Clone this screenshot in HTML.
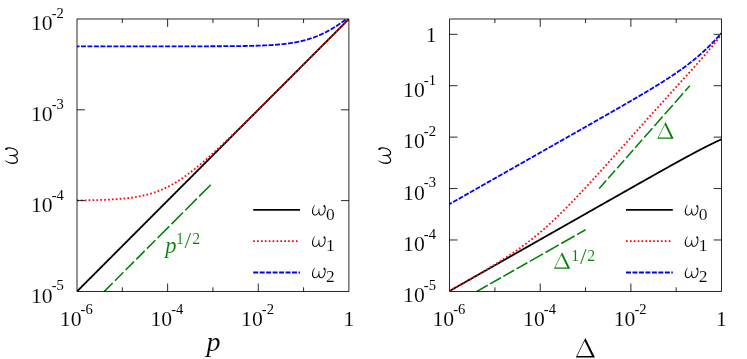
<!DOCTYPE html>
<html><head><meta charset="utf-8"><title>plot</title>
<style>
html,body{margin:0;padding:0;background:#fff;}
svg{display:block;}
text{font-family:"Liberation Serif",serif;fill:#000;stroke:#fff;stroke-width:0.12px;paint-order:fill stroke;}
.t{font-size:21.7px;}
.s{font-size:14.6px;stroke:none;}
.i{font-style:italic;}
.g{fill:#008000;}
</style></head><body>
<svg width="747" height="359" viewBox="0 0 747 359">
<rect x="0" y="0" width="747" height="359" fill="#fff"/>
<g opacity="0.999">
<defs>
<clipPath id="cl"><rect x="77.0" y="19.0" width="271.9" height="272.4"/></clipPath>
<clipPath id="cr"><rect x="449.6" y="19.0" width="271.9" height="272.4"/></clipPath>
</defs>

<g clip-path="url(#cl)" fill="none" stroke-linecap="butt">
<path d="M104.28,291.40L112.69,282.98 M114.95,280.71L123.36,272.29 M125.62,270.03L134.03,261.60 M136.29,259.34L144.69,250.92 M146.95,248.65L155.36,240.23 M157.62,237.96L169.21,226.36 M171.47,224.09L183.05,212.49 M185.31,210.22L196.90,198.61 M199.16,196.35L210.75,184.74" stroke="#008000" stroke-width="1.55" fill="none"/>
<path d="M77.00,291.40 L77.68,290.72 L78.36,290.03 L79.04,289.35 L79.73,288.67 L80.41,287.99 L81.09,287.30 L81.77,286.62 L82.45,285.94 L83.13,285.26 L83.81,284.57 L84.50,283.89 L85.18,283.21 L85.86,282.52 L86.54,281.84 L87.22,281.16 L87.90,280.48 L88.58,279.79 L89.27,279.11 L89.95,278.43 L90.63,277.75 L91.31,277.06 L91.99,276.38 L92.67,275.70 L93.35,275.02 L94.04,274.33 L94.72,273.65 L95.40,272.97 L96.08,272.28 L96.76,271.60 L97.44,270.92 L98.13,270.24 L98.81,269.55 L99.49,268.87 L100.17,268.19 L100.85,267.51 L101.53,266.82 L102.21,266.14 L102.90,265.46 L103.58,264.77 L104.26,264.09 L104.94,263.41 L105.62,262.73 L106.30,262.04 L106.98,261.36 L107.67,260.68 L108.35,260.00 L109.03,259.31 L109.71,258.63 L110.39,257.95 L111.07,257.26 L111.75,256.58 L112.44,255.90 L113.12,255.22 L113.80,254.53 L114.48,253.85 L115.16,253.17 L115.84,252.49 L116.52,251.80 L117.21,251.12 L117.89,250.44 L118.57,249.75 L119.25,249.07 L119.93,248.39 L120.61,247.71 L121.29,247.02 L121.98,246.34 L122.66,245.66 L123.34,244.98 L124.02,244.29 L124.70,243.61 L125.38,242.93 L126.06,242.25 L126.75,241.56 L127.43,240.88 L128.11,240.20 L128.79,239.51 L129.47,238.83 L130.15,238.15 L130.83,237.47 L131.52,236.78 L132.20,236.10 L132.88,235.42 L133.56,234.74 L134.24,234.05 L134.92,233.37 L135.61,232.69 L136.29,232.00 L136.97,231.32 L137.65,230.64 L138.33,229.96 L139.01,229.27 L139.69,228.59 L140.38,227.91 L141.06,227.23 L141.74,226.54 L142.42,225.86 L143.10,225.18 L143.78,224.49 L144.46,223.81 L145.15,223.13 L145.83,222.45 L146.51,221.76 L147.19,221.08 L147.87,220.40 L148.55,219.72 L149.23,219.03 L149.92,218.35 L150.60,217.67 L151.28,216.98 L151.96,216.30 L152.64,215.62 L153.32,214.94 L154.00,214.25 L154.69,213.57 L155.37,212.89 L156.05,212.21 L156.73,211.52 L157.41,210.84 L158.09,210.16 L158.77,209.48 L159.46,208.79 L160.14,208.11 L160.82,207.43 L161.50,206.74 L162.18,206.06 L162.86,205.38 L163.54,204.70 L164.23,204.01 L164.91,203.33 L165.59,202.65 L166.27,201.97 L166.95,201.28 L167.63,200.60 L168.31,199.92 L169.00,199.23 L169.68,198.55 L170.36,197.87 L171.04,197.19 L171.72,196.50 L172.40,195.82 L173.08,195.14 L173.77,194.46 L174.45,193.77 L175.13,193.09 L175.81,192.41 L176.49,191.72 L177.17,191.04 L177.86,190.36 L178.54,189.68 L179.22,188.99 L179.90,188.31 L180.58,187.63 L181.26,186.95 L181.94,186.26 L182.63,185.58 L183.31,184.90 L183.99,184.22 L184.67,183.53 L185.35,182.85 L186.03,182.17 L186.71,181.48 L187.40,180.80 L188.08,180.12 L188.76,179.44 L189.44,178.75 L190.12,178.07 L190.80,177.39 L191.48,176.71 L192.17,176.02 L192.85,175.34 L193.53,174.66 L194.21,173.97 L194.89,173.29 L195.57,172.61 L196.25,171.93 L196.94,171.24 L197.62,170.56 L198.30,169.88 L198.98,169.20 L199.66,168.51 L200.34,167.83 L201.02,167.15 L201.71,166.46 L202.39,165.78 L203.07,165.10 L203.75,164.42 L204.43,163.73 L205.11,163.05 L205.79,162.37 L206.48,161.69 L207.16,161.00 L207.84,160.32 L208.52,159.64 L209.20,158.95 L209.88,158.27 L210.56,157.59 L211.25,156.91 L211.93,156.22 L212.61,155.54 L213.29,154.86 L213.97,154.18 L214.65,153.49 L215.34,152.81 L216.02,152.13 L216.70,151.45 L217.38,150.76 L218.06,150.08 L218.74,149.40 L219.42,148.71 L220.11,148.03 L220.79,147.35 L221.47,146.67 L222.15,145.98 L222.83,145.30 L223.51,144.62 L224.19,143.94 L224.88,143.25 L225.56,142.57 L226.24,141.89 L226.92,141.20 L227.60,140.52 L228.28,139.84 L228.96,139.16 L229.65,138.47 L230.33,137.79 L231.01,137.11 L231.69,136.43 L232.37,135.74 L233.05,135.06 L233.73,134.38 L234.42,133.69 L235.10,133.01 L235.78,132.33 L236.46,131.65 L237.14,130.96 L237.82,130.28 L238.50,129.60 L239.19,128.92 L239.87,128.23 L240.55,127.55 L241.23,126.87 L241.91,126.18 L242.59,125.50 L243.27,124.82 L243.96,124.14 L244.64,123.45 L245.32,122.77 L246.00,122.09 L246.68,121.41 L247.36,120.72 L248.04,120.04 L248.73,119.36 L249.41,118.68 L250.09,117.99 L250.77,117.31 L251.45,116.63 L252.13,115.94 L252.82,115.26 L253.50,114.58 L254.18,113.90 L254.86,113.21 L255.54,112.53 L256.22,111.85 L256.90,111.17 L257.59,110.48 L258.27,109.80 L258.95,109.12 L259.63,108.43 L260.31,107.75 L260.99,107.07 L261.67,106.39 L262.36,105.70 L263.04,105.02 L263.72,104.34 L264.40,103.66 L265.08,102.97 L265.76,102.29 L266.44,101.61 L267.13,100.92 L267.81,100.24 L268.49,99.56 L269.17,98.88 L269.85,98.19 L270.53,97.51 L271.21,96.83 L271.90,96.15 L272.58,95.46 L273.26,94.78 L273.94,94.10 L274.62,93.42 L275.30,92.73 L275.98,92.05 L276.67,91.37 L277.35,90.68 L278.03,90.00 L278.71,89.32 L279.39,88.64 L280.07,87.95 L280.75,87.27 L281.44,86.59 L282.12,85.91 L282.80,85.22 L283.48,84.54 L284.16,83.86 L284.84,83.17 L285.52,82.49 L286.21,81.81 L286.89,81.13 L287.57,80.44 L288.25,79.76 L288.93,79.08 L289.61,78.40 L290.29,77.71 L290.98,77.03 L291.66,76.35 L292.34,75.66 L293.02,74.98 L293.70,74.30 L294.38,73.62 L295.07,72.93 L295.75,72.25 L296.43,71.57 L297.11,70.89 L297.79,70.20 L298.47,69.52 L299.15,68.84 L299.84,68.15 L300.52,67.47 L301.20,66.79 L301.88,66.11 L302.56,65.42 L303.24,64.74 L303.92,64.06 L304.61,63.38 L305.29,62.69 L305.97,62.01 L306.65,61.33 L307.33,60.65 L308.01,59.96 L308.69,59.28 L309.38,58.60 L310.06,57.91 L310.74,57.23 L311.42,56.55 L312.10,55.87 L312.78,55.18 L313.46,54.50 L314.15,53.82 L314.83,53.14 L315.51,52.45 L316.19,51.77 L316.87,51.09 L317.55,50.40 L318.23,49.72 L318.92,49.04 L319.60,48.36 L320.28,47.67 L320.96,46.99 L321.64,46.31 L322.32,45.63 L323.00,44.94 L323.69,44.26 L324.37,43.58 L325.05,42.89 L325.73,42.21 L326.41,41.53 L327.09,40.85 L327.77,40.16 L328.46,39.48 L329.14,38.80 L329.82,38.12 L330.50,37.43 L331.18,36.75 L331.86,36.07 L332.55,35.38 L333.23,34.70 L333.91,34.02 L334.59,33.34 L335.27,32.65 L335.95,31.97 L336.63,31.29 L337.32,30.61 L338.00,29.92 L338.68,29.24 L339.36,28.56 L340.04,27.88 L340.72,27.19 L341.40,26.51 L342.09,25.83 L342.77,25.14 L343.45,24.46 L344.13,23.78 L344.81,23.10 L345.49,22.41 L346.17,21.73 L346.86,21.05 L347.54,20.37 L348.22,19.68 L348.90,19.00" stroke="#000" stroke-width="1.8"/>
<path d="M77.00,200.40 L77.68,200.40 L78.36,200.39 L79.04,200.38 L79.73,200.37 L80.41,200.37 L81.09,200.36 L81.77,200.35 L82.45,200.34 L83.13,200.33 L83.81,200.32 L84.50,200.31 L85.18,200.30 L85.86,200.29 L86.54,200.28 L87.22,200.27 L87.90,200.26 L88.58,200.25 L89.27,200.24 L89.95,200.22 L90.63,200.21 L91.31,200.20 L91.99,200.18 L92.67,200.17 L93.35,200.15 L94.04,200.14 L94.72,200.12 L95.40,200.10 L96.08,200.09 L96.76,200.07 L97.44,200.05 L98.13,200.03 L98.81,200.01 L99.49,199.99 L100.17,199.97 L100.85,199.95 L101.53,199.93 L102.21,199.90 L102.90,199.88 L103.58,199.85 L104.26,199.83 L104.94,199.80 L105.62,199.77 L106.30,199.74 L106.98,199.72 L107.67,199.69 L108.35,199.65 L109.03,199.62 L109.71,199.59 L110.39,199.55 L111.07,199.52 L111.75,199.48 L112.44,199.44 L113.12,199.40 L113.80,199.36 L114.48,199.32 L115.16,199.27 L115.84,199.23 L116.52,199.18 L117.21,199.14 L117.89,199.09 L118.57,199.03 L119.25,198.98 L119.93,198.93 L120.61,198.87 L121.29,198.81 L121.98,198.75 L122.66,198.69 L123.34,198.63 L124.02,198.56 L124.70,198.49 L125.38,198.42 L126.06,198.35 L126.75,198.27 L127.43,198.20 L128.11,198.12 L128.79,198.03 L129.47,197.95 L130.15,197.86 L130.83,197.77 L131.52,197.68 L132.20,197.59 L132.88,197.49 L133.56,197.39 L134.24,197.28 L134.92,197.17 L135.61,197.06 L136.29,196.95 L136.97,196.83 L137.65,196.71 L138.33,196.59 L139.01,196.46 L139.69,196.33 L140.38,196.20 L141.06,196.06 L141.74,195.91 L142.42,195.77 L143.10,195.62 L143.78,195.46 L144.46,195.30 L145.15,195.14 L145.83,194.97 L146.51,194.80 L147.19,194.63 L147.87,194.45 L148.55,194.26 L149.23,194.07 L149.92,193.87 L150.60,193.68 L151.28,193.47 L151.96,193.26 L152.64,193.05 L153.32,192.83 L154.00,192.60 L154.69,192.37 L155.37,192.14 L156.05,191.89 L156.73,191.65 L157.41,191.40 L158.09,191.14 L158.77,190.88 L159.46,190.61 L160.14,190.33 L160.82,190.05 L161.50,189.77 L162.18,189.48 L162.86,189.18 L163.54,188.88 L164.23,188.57 L164.91,188.25 L165.59,187.93 L166.27,187.60 L166.95,187.27 L167.63,186.93 L168.31,186.59 L169.00,186.24 L169.68,185.88 L170.36,185.52 L171.04,185.15 L171.72,184.78 L172.40,184.40 L173.08,184.01 L173.77,183.62 L174.45,183.23 L175.13,182.82 L175.81,182.41 L176.49,182.00 L177.17,181.58 L177.86,181.16 L178.54,180.72 L179.22,180.29 L179.90,179.85 L180.58,179.40 L181.26,178.95 L181.94,178.49 L182.63,178.03 L183.31,177.56 L183.99,177.09 L184.67,176.61 L185.35,176.12 L186.03,175.64 L186.71,175.14 L187.40,174.65 L188.08,174.14 L188.76,173.64 L189.44,173.13 L190.12,172.61 L190.80,172.09 L191.48,171.57 L192.17,171.04 L192.85,170.51 L193.53,169.97 L194.21,169.43 L194.89,168.89 L195.57,168.34 L196.25,167.79 L196.94,167.23 L197.62,166.67 L198.30,166.11 L198.98,165.55 L199.66,164.98 L200.34,164.40 L201.02,163.83 L201.71,163.25 L202.39,162.67 L203.07,162.08 L203.75,161.50 L204.43,160.91 L205.11,160.31 L205.79,159.72 L206.48,159.12 L207.16,158.52 L207.84,157.92 L208.52,157.31 L209.20,156.70 L209.88,156.09 L210.56,155.48 L211.25,154.87 L211.93,154.25 L212.61,153.63 L213.29,153.01 L213.97,152.39 L214.65,151.76 L215.34,151.14 L216.02,150.51 L216.70,149.88 L217.38,149.25 L218.06,148.61 L218.74,147.98 L219.42,147.34 L220.11,146.71 L220.79,146.07 L221.47,145.43 L222.15,144.79 L222.83,144.14 L223.51,143.50 L224.19,142.85 L224.88,142.21 L225.56,141.56 L226.24,140.91 L226.92,140.26 L227.60,139.61 L228.28,138.95 L228.96,138.30 L229.65,137.65 L230.33,136.99 L231.01,136.34 L231.69,135.68 L232.37,135.02 L233.05,134.36 L233.73,133.70 L234.42,133.04 L235.10,132.38 L235.78,131.72 L236.46,131.06 L237.14,130.40 L237.82,129.73 L238.50,129.07 L239.19,128.40 L239.87,127.74 L240.55,127.07 L241.23,126.40 L241.91,125.74 L242.59,125.07 L243.27,124.40 L243.96,123.73 L244.64,123.06 L245.32,122.39 L246.00,121.72 L246.68,121.05 L247.36,120.38 L248.04,119.71 L248.73,119.04 L249.41,118.37 L250.09,117.70 L250.77,117.02 L251.45,116.35 L252.13,115.68 L252.82,115.00 L253.50,114.33 L254.18,113.66 L254.86,112.98 L255.54,112.31 L256.22,111.63 L256.90,110.96 L257.59,110.28 L258.27,109.60 L258.95,108.93 L259.63,108.25 L260.31,107.57 L260.99,106.90 L261.67,106.22 L262.36,105.54 L263.04,104.87 L263.72,104.19 L264.40,103.51 L265.08,102.83 L265.76,102.16 L266.44,101.48 L267.13,100.80 L267.81,100.12 L268.49,99.44 L269.17,98.76 L269.85,98.08 L270.53,97.41 L271.21,96.73 L271.90,96.05 L272.58,95.37 L273.26,94.69 L273.94,94.01 L274.62,93.33 L275.30,92.65 L275.98,91.97 L276.67,91.29 L277.35,90.61 L278.03,89.93 L278.71,89.25 L279.39,88.57 L280.07,87.89 L280.75,87.21 L281.44,86.53 L282.12,85.85 L282.80,85.17 L283.48,84.49 L284.16,83.80 L284.84,83.12 L285.52,82.44 L286.21,81.76 L286.89,81.08 L287.57,80.40 L288.25,79.72 L288.93,79.04 L289.61,78.36 L290.29,77.67 L290.98,76.99 L291.66,76.31 L292.34,75.63 L293.02,74.95 L293.70,74.27 L294.38,73.59 L295.07,72.90 L295.75,72.22 L296.43,71.54 L297.11,70.86 L297.79,70.18 L298.47,69.49 L299.15,68.81 L299.84,68.13 L300.52,67.45 L301.20,66.77 L301.88,66.09 L302.56,65.40 L303.24,64.72 L303.92,64.04 L304.61,63.36 L305.29,62.68 L305.97,61.99 L306.65,61.31 L307.33,60.63 L308.01,59.95 L308.69,59.26 L309.38,58.58 L310.06,57.90 L310.74,57.22 L311.42,56.54 L312.10,55.85 L312.78,55.17 L313.46,54.49 L314.15,53.81 L314.83,53.12 L315.51,52.44 L316.19,51.76 L316.87,51.08 L317.55,50.39 L318.23,49.71 L318.92,49.03 L319.60,48.35 L320.28,47.67 L320.96,46.98 L321.64,46.30 L322.32,45.62 L323.00,44.94 L323.69,44.25 L324.37,43.57 L325.05,42.89 L325.73,42.21 L326.41,41.52 L327.09,40.84 L327.77,40.16 L328.46,39.48 L329.14,38.79 L329.82,38.11 L330.50,37.43 L331.18,36.75 L331.86,36.06 L332.55,35.38 L333.23,34.70 L333.91,34.02 L334.59,33.33 L335.27,32.65 L335.95,31.97 L336.63,31.29 L337.32,30.60 L338.00,29.92 L338.68,29.24 L339.36,28.55 L340.04,27.87 L340.72,27.19 L341.40,26.51 L342.09,25.82 L342.77,25.14 L343.45,24.46 L344.13,23.78 L344.81,23.09 L345.49,22.41 L346.17,21.73 L346.86,21.05 L347.54,20.36 L348.22,19.68 L348.90,19.00" stroke="#ff0000" stroke-width="1.8" stroke-dasharray="1.7 2.18"/>
<path d="M77.00,46.33 L77.68,46.33 L78.36,46.33 L79.04,46.33 L79.73,46.33 L80.41,46.33 L81.09,46.33 L81.77,46.33 L82.45,46.33 L83.13,46.33 L83.81,46.33 L84.50,46.33 L85.18,46.33 L85.86,46.33 L86.54,46.33 L87.22,46.33 L87.90,46.33 L88.58,46.33 L89.27,46.33 L89.95,46.33 L90.63,46.33 L91.31,46.33 L91.99,46.33 L92.67,46.33 L93.35,46.33 L94.04,46.33 L94.72,46.33 L95.40,46.33 L96.08,46.33 L96.76,46.33 L97.44,46.33 L98.13,46.33 L98.81,46.33 L99.49,46.33 L100.17,46.33 L100.85,46.33 L101.53,46.33 L102.21,46.33 L102.90,46.33 L103.58,46.33 L104.26,46.33 L104.94,46.33 L105.62,46.33 L106.30,46.33 L106.98,46.33 L107.67,46.33 L108.35,46.33 L109.03,46.33 L109.71,46.33 L110.39,46.33 L111.07,46.33 L111.75,46.33 L112.44,46.33 L113.12,46.33 L113.80,46.33 L114.48,46.33 L115.16,46.33 L115.84,46.33 L116.52,46.33 L117.21,46.33 L117.89,46.33 L118.57,46.33 L119.25,46.33 L119.93,46.33 L120.61,46.33 L121.29,46.33 L121.98,46.33 L122.66,46.33 L123.34,46.33 L124.02,46.33 L124.70,46.33 L125.38,46.33 L126.06,46.33 L126.75,46.33 L127.43,46.33 L128.11,46.33 L128.79,46.33 L129.47,46.33 L130.15,46.33 L130.83,46.33 L131.52,46.33 L132.20,46.33 L132.88,46.33 L133.56,46.33 L134.24,46.33 L134.92,46.33 L135.61,46.33 L136.29,46.33 L136.97,46.33 L137.65,46.33 L138.33,46.33 L139.01,46.33 L139.69,46.33 L140.38,46.33 L141.06,46.33 L141.74,46.33 L142.42,46.33 L143.10,46.33 L143.78,46.33 L144.46,46.33 L145.15,46.33 L145.83,46.33 L146.51,46.33 L147.19,46.33 L147.87,46.33 L148.55,46.33 L149.23,46.33 L149.92,46.33 L150.60,46.33 L151.28,46.33 L151.96,46.33 L152.64,46.33 L153.32,46.33 L154.00,46.33 L154.69,46.33 L155.37,46.33 L156.05,46.33 L156.73,46.33 L157.41,46.33 L158.09,46.33 L158.77,46.33 L159.46,46.33 L160.14,46.33 L160.82,46.33 L161.50,46.33 L162.18,46.33 L162.86,46.33 L163.54,46.33 L164.23,46.33 L164.91,46.33 L165.59,46.33 L166.27,46.33 L166.95,46.33 L167.63,46.33 L168.31,46.33 L169.00,46.33 L169.68,46.33 L170.36,46.33 L171.04,46.33 L171.72,46.33 L172.40,46.32 L173.08,46.32 L173.77,46.32 L174.45,46.32 L175.13,46.32 L175.81,46.32 L176.49,46.32 L177.17,46.32 L177.86,46.32 L178.54,46.32 L179.22,46.32 L179.90,46.32 L180.58,46.32 L181.26,46.32 L181.94,46.32 L182.63,46.32 L183.31,46.32 L183.99,46.32 L184.67,46.32 L185.35,46.32 L186.03,46.32 L186.71,46.32 L187.40,46.32 L188.08,46.31 L188.76,46.31 L189.44,46.31 L190.12,46.31 L190.80,46.31 L191.48,46.31 L192.17,46.31 L192.85,46.31 L193.53,46.31 L194.21,46.31 L194.89,46.31 L195.57,46.31 L196.25,46.30 L196.94,46.30 L197.62,46.30 L198.30,46.30 L198.98,46.30 L199.66,46.30 L200.34,46.30 L201.02,46.30 L201.71,46.30 L202.39,46.29 L203.07,46.29 L203.75,46.29 L204.43,46.29 L205.11,46.29 L205.79,46.29 L206.48,46.29 L207.16,46.28 L207.84,46.28 L208.52,46.28 L209.20,46.28 L209.88,46.28 L210.56,46.27 L211.25,46.27 L211.93,46.27 L212.61,46.27 L213.29,46.27 L213.97,46.26 L214.65,46.26 L215.34,46.26 L216.02,46.26 L216.70,46.25 L217.38,46.25 L218.06,46.25 L218.74,46.24 L219.42,46.24 L220.11,46.24 L220.79,46.23 L221.47,46.23 L222.15,46.23 L222.83,46.22 L223.51,46.22 L224.19,46.22 L224.88,46.21 L225.56,46.21 L226.24,46.20 L226.92,46.20 L227.60,46.19 L228.28,46.19 L228.96,46.18 L229.65,46.18 L230.33,46.17 L231.01,46.17 L231.69,46.16 L232.37,46.15 L233.05,46.15 L233.73,46.14 L234.42,46.13 L235.10,46.13 L235.78,46.12 L236.46,46.11 L237.14,46.11 L237.82,46.10 L238.50,46.09 L239.19,46.08 L239.87,46.07 L240.55,46.06 L241.23,46.05 L241.91,46.04 L242.59,46.03 L243.27,46.02 L243.96,46.01 L244.64,46.00 L245.32,45.99 L246.00,45.98 L246.68,45.96 L247.36,45.95 L248.04,45.94 L248.73,45.92 L249.41,45.91 L250.09,45.90 L250.77,45.88 L251.45,45.86 L252.13,45.85 L252.82,45.83 L253.50,45.81 L254.18,45.80 L254.86,45.78 L255.54,45.76 L256.22,45.74 L256.90,45.72 L257.59,45.70 L258.27,45.67 L258.95,45.65 L259.63,45.63 L260.31,45.60 L260.99,45.58 L261.67,45.55 L262.36,45.53 L263.04,45.50 L263.72,45.47 L264.40,45.44 L265.08,45.41 L265.76,45.38 L266.44,45.34 L267.13,45.31 L267.81,45.27 L268.49,45.24 L269.17,45.20 L269.85,45.16 L270.53,45.12 L271.21,45.08 L271.90,45.04 L272.58,44.99 L273.26,44.95 L273.94,44.90 L274.62,44.85 L275.30,44.80 L275.98,44.75 L276.67,44.70 L277.35,44.64 L278.03,44.58 L278.71,44.52 L279.39,44.46 L280.07,44.40 L280.75,44.34 L281.44,44.27 L282.12,44.20 L282.80,44.13 L283.48,44.06 L284.16,43.98 L284.84,43.90 L285.52,43.82 L286.21,43.74 L286.89,43.65 L287.57,43.57 L288.25,43.48 L288.93,43.38 L289.61,43.29 L290.29,43.19 L290.98,43.08 L291.66,42.98 L292.34,42.87 L293.02,42.76 L293.70,42.64 L294.38,42.53 L295.07,42.40 L295.75,42.28 L296.43,42.15 L297.11,42.02 L297.79,41.88 L298.47,41.74 L299.15,41.60 L299.84,41.45 L300.52,41.30 L301.20,41.14 L301.88,40.98 L302.56,40.82 L303.24,40.65 L303.92,40.48 L304.61,40.30 L305.29,40.12 L305.97,39.93 L306.65,39.74 L307.33,39.54 L308.01,39.34 L308.69,39.13 L309.38,38.92 L310.06,38.70 L310.74,38.48 L311.42,38.26 L312.10,38.02 L312.78,37.79 L313.46,37.54 L314.15,37.30 L314.83,37.04 L315.51,36.78 L316.19,36.52 L316.87,36.25 L317.55,35.97 L318.23,35.69 L318.92,35.40 L319.60,35.11 L320.28,34.81 L320.96,34.50 L321.64,34.19 L322.32,33.88 L323.00,33.55 L323.69,33.22 L324.37,32.89 L325.05,32.55 L325.73,32.20 L326.41,31.85 L327.09,31.49 L327.77,31.13 L328.46,30.76 L329.14,30.38 L329.82,30.00 L330.50,29.61 L331.18,29.22 L331.86,28.82 L332.55,28.42 L333.23,28.01 L333.91,27.59 L334.59,27.17 L335.27,26.74 L335.95,26.31 L336.63,25.87 L337.32,25.43 L338.00,24.98 L338.68,24.52 L339.36,24.06 L340.04,23.60 L340.72,23.13 L341.40,22.66 L342.09,22.18 L342.77,21.69 L343.45,21.20 L344.13,20.71 L344.81,20.21 L345.49,19.70 L346.17,19.20 L346.86,18.68 L347.54,18.17 L348.22,17.65 L348.90,17.12" stroke="#0000ff" stroke-width="1.8" stroke-dasharray="5 1.47" stroke-dashoffset="2.5"/>
</g>
<path d="M122.32,291.4v-4.1 M122.32,19.0v4.1 M167.63,291.4v-7.9 M167.63,19.0v7.9 M212.95,291.4v-4.1 M212.95,19.0v4.1 M258.27,291.4v-7.9 M258.27,19.0v7.9 M303.58,291.4v-4.1 M303.58,19.0v4.1 M77.0,200.60h7.9 M348.9,200.60h-7.9 M77.0,109.80h7.9 M348.9,109.80h-7.9" stroke="#000" stroke-width="0.85" fill="none"/>
<rect x="77.0" y="19.0" width="271.90" height="272.40" fill="none" stroke="#000" stroke-width="0.85"/>
<text class="t" x="30.95" y="302.50">10</text><text class="s" x="51.70" y="290.40">-5</text>
<text class="t" x="30.95" y="211.70">10</text><text class="s" x="51.70" y="199.60">-4</text>
<text class="t" x="30.95" y="120.90">10</text><text class="s" x="51.70" y="108.80">-3</text>
<text class="t" x="30.95" y="30.10">10</text><text class="s" x="51.70" y="18.00">-2</text>
<text class="t" x="59.85" y="326.00">10</text><text class="s" x="80.60" y="313.90">-6</text>
<text class="t" x="150.48" y="326.00">10</text><text class="s" x="171.23" y="313.90">-4</text>
<text class="t" x="241.12" y="326.00">10</text><text class="s" x="261.87" y="313.90">-2</text>
<text class="t" x="348.90" y="326" text-anchor="middle">1</text>
<text class="i" font-size="28" x="206.5" y="350.6">p</text>
<g transform="translate(17.5,163.55) rotate(-90) scale(1.18)" fill="#000"><title>ω</title><path d="M2.37,-10.48 L1.95,-9.98 L1.56,-9.45 L1.19,-8.88 L0.86,-8.30 L0.56,-7.69 L0.29,-7.06 L0.07,-6.41 L-0.12,-5.75 L-0.25,-5.07 L-0.34,-4.37 L-0.37,-3.68 L-0.31,-3.03 L-0.20,-2.42 L-0.05,-1.87 L0.15,-1.37 L0.40,-0.92 L0.70,-0.52 L1.04,-0.19 L1.43,0.08 L1.86,0.26 L2.32,0.37 L2.81,0.40 L3.40,0.33 L3.98,0.16 L4.52,-0.10 L5.03,-0.44 L5.50,-0.87 L5.92,-1.36 L6.29,-1.91 L6.60,-2.53 L6.85,-3.19 L7.04,-3.91 L7.15,-4.65 L7.17,-4.88 L7.19,-5.10 L7.21,-5.32 L7.23,-5.54 L7.24,-5.76 L7.25,-5.97 L7.26,-6.19 L7.27,-6.39 L7.27,-6.60 L7.28,-6.80 L7.27,-7.00 L6.63,-7.00 L6.62,-6.81 L6.62,-6.62 L6.61,-6.42 L6.60,-6.22 L6.58,-6.01 L6.57,-5.81 L6.55,-5.60 L6.53,-5.38 L6.51,-5.17 L6.48,-4.96 L6.45,-4.75 L6.33,-4.06 L6.14,-3.43 L5.89,-2.86 L5.60,-2.34 L5.26,-1.88 L4.89,-1.48 L4.50,-1.16 L4.08,-0.90 L3.66,-0.73 L3.23,-0.63 L2.79,-0.60 L2.49,-0.64 L2.21,-0.72 L1.97,-0.85 L1.75,-1.02 L1.55,-1.24 L1.37,-1.51 L1.21,-1.84 L1.08,-2.22 L0.98,-2.67 L0.91,-3.17 L0.87,-3.72 L0.84,-4.33 L0.85,-4.95 L0.90,-5.56 L1.00,-6.17 L1.13,-6.78 L1.31,-7.39 L1.53,-7.98 L1.78,-8.57 L2.07,-9.13 L2.38,-9.68 L2.73,-10.22Z M6.63,-7.03 L6.56,-6.45 L6.50,-5.87 L6.46,-5.29 L6.44,-4.71 L6.43,-4.15 L6.44,-3.60 L6.46,-3.07 L6.51,-2.57 L6.57,-2.09 L6.65,-1.63 L6.76,-1.20 L6.91,-0.88 L7.08,-0.61 L7.27,-0.38 L7.48,-0.17 L7.71,-0.00 L7.94,0.14 L8.19,0.24 L8.44,0.31 L8.70,0.35 L8.95,0.37 L9.26,0.37 L9.90,0.26 L10.54,-0.02 L11.13,-0.42 L11.67,-0.94 L12.16,-1.55 L12.59,-2.24 L12.96,-3.00 L13.26,-3.82 L13.49,-4.68 L13.65,-5.57 L13.72,-6.47 L13.74,-6.90 L13.73,-7.30 L13.71,-7.68 L13.68,-8.03 L13.64,-8.37 L13.58,-8.68 L13.51,-8.97 L13.44,-9.23 L13.36,-9.47 L13.27,-9.69 L13.18,-9.86 L12.22,-9.34 L12.29,-9.21 L12.36,-9.07 L12.44,-8.89 L12.51,-8.69 L12.57,-8.45 L12.63,-8.19 L12.68,-7.90 L12.73,-7.59 L12.76,-7.25 L12.77,-6.90 L12.78,-6.53 L12.71,-5.69 L12.57,-4.89 L12.36,-4.11 L12.08,-3.38 L11.75,-2.70 L11.38,-2.10 L10.97,-1.58 L10.53,-1.16 L10.08,-0.85 L9.63,-0.65 L9.14,-0.57 L9.02,-0.59 L8.85,-0.62 L8.70,-0.66 L8.56,-0.71 L8.44,-0.78 L8.32,-0.86 L8.21,-0.96 L8.11,-1.08 L8.01,-1.23 L7.92,-1.40 L7.84,-1.60 L7.72,-1.92 L7.61,-2.30 L7.51,-2.72 L7.43,-3.18 L7.36,-3.67 L7.31,-4.19 L7.27,-4.72 L7.25,-5.27 L7.24,-5.83 L7.25,-6.40 L7.27,-6.97Z"/><ellipse cx="12.42" cy="-9.35" rx="0.85" ry="1.2" transform="rotate(-20 12.42 -9.35)"/></g>
<text class="i g" font-size="22.5" x="165.2" y="252.6">p</text>
<text class="g" font-size="15.8" x="175.88" y="243.5">1</text><text class="g" font-size="24" x="184.60" y="247.7">/</text><text class="g" font-size="15.8" x="192.19" y="243.5">2</text>
<path d="M253.2,209.90H300" stroke="#000" stroke-width="1.8" fill="none"/>
<g transform="translate(312.3,215.2) rotate(0) scale(0.97)" fill="#000"><title>ω</title><path d="M2.37,-10.48 L1.95,-9.98 L1.56,-9.45 L1.19,-8.88 L0.86,-8.30 L0.56,-7.69 L0.29,-7.06 L0.07,-6.41 L-0.12,-5.75 L-0.25,-5.07 L-0.34,-4.37 L-0.37,-3.68 L-0.31,-3.03 L-0.20,-2.42 L-0.05,-1.87 L0.15,-1.37 L0.40,-0.92 L0.70,-0.52 L1.04,-0.19 L1.43,0.08 L1.86,0.26 L2.32,0.37 L2.81,0.40 L3.40,0.33 L3.98,0.16 L4.52,-0.10 L5.03,-0.44 L5.50,-0.87 L5.92,-1.36 L6.29,-1.91 L6.60,-2.53 L6.85,-3.19 L7.04,-3.91 L7.15,-4.65 L7.17,-4.88 L7.19,-5.10 L7.21,-5.32 L7.23,-5.54 L7.24,-5.76 L7.25,-5.97 L7.26,-6.19 L7.27,-6.39 L7.27,-6.60 L7.28,-6.80 L7.27,-7.00 L6.63,-7.00 L6.62,-6.81 L6.62,-6.62 L6.61,-6.42 L6.60,-6.22 L6.58,-6.01 L6.57,-5.81 L6.55,-5.60 L6.53,-5.38 L6.51,-5.17 L6.48,-4.96 L6.45,-4.75 L6.33,-4.06 L6.14,-3.43 L5.89,-2.86 L5.60,-2.34 L5.26,-1.88 L4.89,-1.48 L4.50,-1.16 L4.08,-0.90 L3.66,-0.73 L3.23,-0.63 L2.79,-0.60 L2.49,-0.64 L2.21,-0.72 L1.97,-0.85 L1.75,-1.02 L1.55,-1.24 L1.37,-1.51 L1.21,-1.84 L1.08,-2.22 L0.98,-2.67 L0.91,-3.17 L0.87,-3.72 L0.84,-4.33 L0.85,-4.95 L0.90,-5.56 L1.00,-6.17 L1.13,-6.78 L1.31,-7.39 L1.53,-7.98 L1.78,-8.57 L2.07,-9.13 L2.38,-9.68 L2.73,-10.22Z M6.63,-7.03 L6.56,-6.45 L6.50,-5.87 L6.46,-5.29 L6.44,-4.71 L6.43,-4.15 L6.44,-3.60 L6.46,-3.07 L6.51,-2.57 L6.57,-2.09 L6.65,-1.63 L6.76,-1.20 L6.91,-0.88 L7.08,-0.61 L7.27,-0.38 L7.48,-0.17 L7.71,-0.00 L7.94,0.14 L8.19,0.24 L8.44,0.31 L8.70,0.35 L8.95,0.37 L9.26,0.37 L9.90,0.26 L10.54,-0.02 L11.13,-0.42 L11.67,-0.94 L12.16,-1.55 L12.59,-2.24 L12.96,-3.00 L13.26,-3.82 L13.49,-4.68 L13.65,-5.57 L13.72,-6.47 L13.74,-6.90 L13.73,-7.30 L13.71,-7.68 L13.68,-8.03 L13.64,-8.37 L13.58,-8.68 L13.51,-8.97 L13.44,-9.23 L13.36,-9.47 L13.27,-9.69 L13.18,-9.86 L12.22,-9.34 L12.29,-9.21 L12.36,-9.07 L12.44,-8.89 L12.51,-8.69 L12.57,-8.45 L12.63,-8.19 L12.68,-7.90 L12.73,-7.59 L12.76,-7.25 L12.77,-6.90 L12.78,-6.53 L12.71,-5.69 L12.57,-4.89 L12.36,-4.11 L12.08,-3.38 L11.75,-2.70 L11.38,-2.10 L10.97,-1.58 L10.53,-1.16 L10.08,-0.85 L9.63,-0.65 L9.14,-0.57 L9.02,-0.59 L8.85,-0.62 L8.70,-0.66 L8.56,-0.71 L8.44,-0.78 L8.32,-0.86 L8.21,-0.96 L8.11,-1.08 L8.01,-1.23 L7.92,-1.40 L7.84,-1.60 L7.72,-1.92 L7.61,-2.30 L7.51,-2.72 L7.43,-3.18 L7.36,-3.67 L7.31,-4.19 L7.27,-4.72 L7.25,-5.27 L7.24,-5.83 L7.25,-6.40 L7.27,-6.97Z"/><ellipse cx="12.42" cy="-9.35" rx="0.85" ry="1.2" transform="rotate(-20 12.42 -9.35)"/></g>
<text font-size="17.5" x="326" y="219.50">0</text>
<path d="M253.2,241.20H297.7" stroke="#ff0000" stroke-width="1.8" fill="none" stroke-dasharray="1.7 2.18"/>
<g transform="translate(312.3,246.5) rotate(0) scale(0.97)" fill="#000"><title>ω</title><path d="M2.37,-10.48 L1.95,-9.98 L1.56,-9.45 L1.19,-8.88 L0.86,-8.30 L0.56,-7.69 L0.29,-7.06 L0.07,-6.41 L-0.12,-5.75 L-0.25,-5.07 L-0.34,-4.37 L-0.37,-3.68 L-0.31,-3.03 L-0.20,-2.42 L-0.05,-1.87 L0.15,-1.37 L0.40,-0.92 L0.70,-0.52 L1.04,-0.19 L1.43,0.08 L1.86,0.26 L2.32,0.37 L2.81,0.40 L3.40,0.33 L3.98,0.16 L4.52,-0.10 L5.03,-0.44 L5.50,-0.87 L5.92,-1.36 L6.29,-1.91 L6.60,-2.53 L6.85,-3.19 L7.04,-3.91 L7.15,-4.65 L7.17,-4.88 L7.19,-5.10 L7.21,-5.32 L7.23,-5.54 L7.24,-5.76 L7.25,-5.97 L7.26,-6.19 L7.27,-6.39 L7.27,-6.60 L7.28,-6.80 L7.27,-7.00 L6.63,-7.00 L6.62,-6.81 L6.62,-6.62 L6.61,-6.42 L6.60,-6.22 L6.58,-6.01 L6.57,-5.81 L6.55,-5.60 L6.53,-5.38 L6.51,-5.17 L6.48,-4.96 L6.45,-4.75 L6.33,-4.06 L6.14,-3.43 L5.89,-2.86 L5.60,-2.34 L5.26,-1.88 L4.89,-1.48 L4.50,-1.16 L4.08,-0.90 L3.66,-0.73 L3.23,-0.63 L2.79,-0.60 L2.49,-0.64 L2.21,-0.72 L1.97,-0.85 L1.75,-1.02 L1.55,-1.24 L1.37,-1.51 L1.21,-1.84 L1.08,-2.22 L0.98,-2.67 L0.91,-3.17 L0.87,-3.72 L0.84,-4.33 L0.85,-4.95 L0.90,-5.56 L1.00,-6.17 L1.13,-6.78 L1.31,-7.39 L1.53,-7.98 L1.78,-8.57 L2.07,-9.13 L2.38,-9.68 L2.73,-10.22Z M6.63,-7.03 L6.56,-6.45 L6.50,-5.87 L6.46,-5.29 L6.44,-4.71 L6.43,-4.15 L6.44,-3.60 L6.46,-3.07 L6.51,-2.57 L6.57,-2.09 L6.65,-1.63 L6.76,-1.20 L6.91,-0.88 L7.08,-0.61 L7.27,-0.38 L7.48,-0.17 L7.71,-0.00 L7.94,0.14 L8.19,0.24 L8.44,0.31 L8.70,0.35 L8.95,0.37 L9.26,0.37 L9.90,0.26 L10.54,-0.02 L11.13,-0.42 L11.67,-0.94 L12.16,-1.55 L12.59,-2.24 L12.96,-3.00 L13.26,-3.82 L13.49,-4.68 L13.65,-5.57 L13.72,-6.47 L13.74,-6.90 L13.73,-7.30 L13.71,-7.68 L13.68,-8.03 L13.64,-8.37 L13.58,-8.68 L13.51,-8.97 L13.44,-9.23 L13.36,-9.47 L13.27,-9.69 L13.18,-9.86 L12.22,-9.34 L12.29,-9.21 L12.36,-9.07 L12.44,-8.89 L12.51,-8.69 L12.57,-8.45 L12.63,-8.19 L12.68,-7.90 L12.73,-7.59 L12.76,-7.25 L12.77,-6.90 L12.78,-6.53 L12.71,-5.69 L12.57,-4.89 L12.36,-4.11 L12.08,-3.38 L11.75,-2.70 L11.38,-2.10 L10.97,-1.58 L10.53,-1.16 L10.08,-0.85 L9.63,-0.65 L9.14,-0.57 L9.02,-0.59 L8.85,-0.62 L8.70,-0.66 L8.56,-0.71 L8.44,-0.78 L8.32,-0.86 L8.21,-0.96 L8.11,-1.08 L8.01,-1.23 L7.92,-1.40 L7.84,-1.60 L7.72,-1.92 L7.61,-2.30 L7.51,-2.72 L7.43,-3.18 L7.36,-3.67 L7.31,-4.19 L7.27,-4.72 L7.25,-5.27 L7.24,-5.83 L7.25,-6.40 L7.27,-6.97Z"/><ellipse cx="12.42" cy="-9.35" rx="0.85" ry="1.2" transform="rotate(-20 12.42 -9.35)"/></g>
<text font-size="17.5" x="326" y="250.80">1</text>
<path d="M253.2,272.50H300" stroke="#0000ff" stroke-width="1.8" fill="none" stroke-dasharray="5 1.47"/>
<g transform="translate(312.3,277.8) rotate(0) scale(0.97)" fill="#000"><title>ω</title><path d="M2.37,-10.48 L1.95,-9.98 L1.56,-9.45 L1.19,-8.88 L0.86,-8.30 L0.56,-7.69 L0.29,-7.06 L0.07,-6.41 L-0.12,-5.75 L-0.25,-5.07 L-0.34,-4.37 L-0.37,-3.68 L-0.31,-3.03 L-0.20,-2.42 L-0.05,-1.87 L0.15,-1.37 L0.40,-0.92 L0.70,-0.52 L1.04,-0.19 L1.43,0.08 L1.86,0.26 L2.32,0.37 L2.81,0.40 L3.40,0.33 L3.98,0.16 L4.52,-0.10 L5.03,-0.44 L5.50,-0.87 L5.92,-1.36 L6.29,-1.91 L6.60,-2.53 L6.85,-3.19 L7.04,-3.91 L7.15,-4.65 L7.17,-4.88 L7.19,-5.10 L7.21,-5.32 L7.23,-5.54 L7.24,-5.76 L7.25,-5.97 L7.26,-6.19 L7.27,-6.39 L7.27,-6.60 L7.28,-6.80 L7.27,-7.00 L6.63,-7.00 L6.62,-6.81 L6.62,-6.62 L6.61,-6.42 L6.60,-6.22 L6.58,-6.01 L6.57,-5.81 L6.55,-5.60 L6.53,-5.38 L6.51,-5.17 L6.48,-4.96 L6.45,-4.75 L6.33,-4.06 L6.14,-3.43 L5.89,-2.86 L5.60,-2.34 L5.26,-1.88 L4.89,-1.48 L4.50,-1.16 L4.08,-0.90 L3.66,-0.73 L3.23,-0.63 L2.79,-0.60 L2.49,-0.64 L2.21,-0.72 L1.97,-0.85 L1.75,-1.02 L1.55,-1.24 L1.37,-1.51 L1.21,-1.84 L1.08,-2.22 L0.98,-2.67 L0.91,-3.17 L0.87,-3.72 L0.84,-4.33 L0.85,-4.95 L0.90,-5.56 L1.00,-6.17 L1.13,-6.78 L1.31,-7.39 L1.53,-7.98 L1.78,-8.57 L2.07,-9.13 L2.38,-9.68 L2.73,-10.22Z M6.63,-7.03 L6.56,-6.45 L6.50,-5.87 L6.46,-5.29 L6.44,-4.71 L6.43,-4.15 L6.44,-3.60 L6.46,-3.07 L6.51,-2.57 L6.57,-2.09 L6.65,-1.63 L6.76,-1.20 L6.91,-0.88 L7.08,-0.61 L7.27,-0.38 L7.48,-0.17 L7.71,-0.00 L7.94,0.14 L8.19,0.24 L8.44,0.31 L8.70,0.35 L8.95,0.37 L9.26,0.37 L9.90,0.26 L10.54,-0.02 L11.13,-0.42 L11.67,-0.94 L12.16,-1.55 L12.59,-2.24 L12.96,-3.00 L13.26,-3.82 L13.49,-4.68 L13.65,-5.57 L13.72,-6.47 L13.74,-6.90 L13.73,-7.30 L13.71,-7.68 L13.68,-8.03 L13.64,-8.37 L13.58,-8.68 L13.51,-8.97 L13.44,-9.23 L13.36,-9.47 L13.27,-9.69 L13.18,-9.86 L12.22,-9.34 L12.29,-9.21 L12.36,-9.07 L12.44,-8.89 L12.51,-8.69 L12.57,-8.45 L12.63,-8.19 L12.68,-7.90 L12.73,-7.59 L12.76,-7.25 L12.77,-6.90 L12.78,-6.53 L12.71,-5.69 L12.57,-4.89 L12.36,-4.11 L12.08,-3.38 L11.75,-2.70 L11.38,-2.10 L10.97,-1.58 L10.53,-1.16 L10.08,-0.85 L9.63,-0.65 L9.14,-0.57 L9.02,-0.59 L8.85,-0.62 L8.70,-0.66 L8.56,-0.71 L8.44,-0.78 L8.32,-0.86 L8.21,-0.96 L8.11,-1.08 L8.01,-1.23 L7.92,-1.40 L7.84,-1.60 L7.72,-1.92 L7.61,-2.30 L7.51,-2.72 L7.43,-3.18 L7.36,-3.67 L7.31,-4.19 L7.27,-4.72 L7.25,-5.27 L7.24,-5.83 L7.25,-6.40 L7.27,-6.97Z"/><ellipse cx="12.42" cy="-9.35" rx="0.85" ry="1.2" transform="rotate(-20 12.42 -9.35)"/></g>
<text font-size="17.5" x="326" y="282.10">2</text>
<g clip-path="url(#cr)" fill="none" stroke-linecap="butt">
<path d="M476.88,291.40L487.67,285.28 M490.10,283.90L500.89,277.78 M503.32,276.40L514.11,270.28 M516.54,268.90L527.33,262.78 M529.77,261.40L543.07,253.85 M545.51,252.47L558.82,244.92 M561.25,243.53L574.56,235.98 M576.99,234.60L585.55,229.75" stroke="#008000" stroke-width="1.55" fill="none"/>
<path d="M599.19,188.56L606.20,180.61 M608.18,178.36L615.19,170.40 M617.18,168.15L624.18,160.20 M626.17,157.95L633.18,150.00 M635.16,147.75L642.17,139.80 M644.15,137.54L652.42,128.17 M654.40,125.92L662.66,116.54 M664.65,114.29L672.91,104.91 M674.90,102.66L683.16,93.28 M685.14,91.03L689.83,85.72" stroke="#008000" stroke-width="1.55" fill="none"/>
<path d="M449.60,290.96 L450.28,290.57 L450.96,290.18 L451.64,289.80 L452.33,289.41 L453.01,289.02 L453.69,288.64 L454.37,288.25 L455.05,287.86 L455.73,287.48 L456.41,287.09 L457.10,286.71 L457.78,286.32 L458.46,285.93 L459.14,285.55 L459.82,285.16 L460.50,284.77 L461.18,284.39 L461.87,284.00 L462.55,283.61 L463.23,283.23 L463.91,282.84 L464.59,282.45 L465.27,282.07 L465.95,281.68 L466.64,281.29 L467.32,280.91 L468.00,280.52 L468.68,280.13 L469.36,279.75 L470.04,279.36 L470.73,278.97 L471.41,278.59 L472.09,278.20 L472.77,277.81 L473.45,277.43 L474.13,277.04 L474.81,276.65 L475.50,276.27 L476.18,275.88 L476.86,275.49 L477.54,275.11 L478.22,274.72 L478.90,274.33 L479.58,273.95 L480.27,273.56 L480.95,273.17 L481.63,272.79 L482.31,272.40 L482.99,272.01 L483.67,271.63 L484.35,271.24 L485.04,270.85 L485.72,270.47 L486.40,270.08 L487.08,269.69 L487.76,269.31 L488.44,268.92 L489.12,268.53 L489.81,268.15 L490.49,267.76 L491.17,267.37 L491.85,266.99 L492.53,266.60 L493.21,266.21 L493.89,265.83 L494.58,265.44 L495.26,265.05 L495.94,264.67 L496.62,264.28 L497.30,263.89 L497.98,263.51 L498.66,263.12 L499.35,262.73 L500.03,262.35 L500.71,261.96 L501.39,261.57 L502.07,261.19 L502.75,260.80 L503.43,260.42 L504.12,260.03 L504.80,259.64 L505.48,259.26 L506.16,258.87 L506.84,258.48 L507.52,258.10 L508.21,257.71 L508.89,257.32 L509.57,256.94 L510.25,256.55 L510.93,256.16 L511.61,255.78 L512.29,255.39 L512.98,255.00 L513.66,254.62 L514.34,254.23 L515.02,253.84 L515.70,253.46 L516.38,253.07 L517.06,252.68 L517.75,252.30 L518.43,251.91 L519.11,251.52 L519.79,251.14 L520.47,250.75 L521.15,250.36 L521.83,249.98 L522.52,249.59 L523.20,249.20 L523.88,248.82 L524.56,248.43 L525.24,248.04 L525.92,247.66 L526.60,247.27 L527.29,246.88 L527.97,246.50 L528.65,246.11 L529.33,245.72 L530.01,245.34 L530.69,244.95 L531.37,244.56 L532.06,244.18 L532.74,243.79 L533.42,243.40 L534.10,243.02 L534.78,242.63 L535.46,242.24 L536.14,241.86 L536.83,241.47 L537.51,241.08 L538.19,240.70 L538.87,240.31 L539.55,239.92 L540.23,239.54 L540.91,239.15 L541.60,238.76 L542.28,238.38 L542.96,237.99 L543.64,237.61 L544.32,237.22 L545.00,236.83 L545.68,236.45 L546.37,236.06 L547.05,235.67 L547.73,235.29 L548.41,234.90 L549.09,234.51 L549.77,234.13 L550.46,233.74 L551.14,233.35 L551.82,232.97 L552.50,232.58 L553.18,232.19 L553.86,231.81 L554.54,231.42 L555.23,231.03 L555.91,230.65 L556.59,230.26 L557.27,229.87 L557.95,229.49 L558.63,229.10 L559.31,228.71 L560.00,228.33 L560.68,227.94 L561.36,227.55 L562.04,227.17 L562.72,226.78 L563.40,226.39 L564.08,226.01 L564.77,225.62 L565.45,225.23 L566.13,224.85 L566.81,224.46 L567.49,224.07 L568.17,223.69 L568.85,223.30 L569.54,222.91 L570.22,222.53 L570.90,222.14 L571.58,221.75 L572.26,221.37 L572.94,220.98 L573.62,220.60 L574.31,220.21 L574.99,219.82 L575.67,219.44 L576.35,219.05 L577.03,218.66 L577.71,218.28 L578.39,217.89 L579.08,217.50 L579.76,217.12 L580.44,216.73 L581.12,216.34 L581.80,215.96 L582.48,215.57 L583.16,215.18 L583.85,214.80 L584.53,214.41 L585.21,214.02 L585.89,213.64 L586.57,213.25 L587.25,212.86 L587.94,212.48 L588.62,212.09 L589.30,211.70 L589.98,211.32 L590.66,210.93 L591.34,210.55 L592.02,210.16 L592.71,209.77 L593.39,209.39 L594.07,209.00 L594.75,208.61 L595.43,208.23 L596.11,207.84 L596.79,207.45 L597.48,207.07 L598.16,206.68 L598.84,206.29 L599.52,205.91 L600.20,205.52 L600.88,205.14 L601.56,204.75 L602.25,204.36 L602.93,203.98 L603.61,203.59 L604.29,203.20 L604.97,202.82 L605.65,202.43 L606.33,202.04 L607.02,201.66 L607.70,201.27 L608.38,200.89 L609.06,200.50 L609.74,200.11 L610.42,199.73 L611.10,199.34 L611.79,198.95 L612.47,198.57 L613.15,198.18 L613.83,197.80 L614.51,197.41 L615.19,197.02 L615.87,196.64 L616.56,196.25 L617.24,195.86 L617.92,195.48 L618.60,195.09 L619.28,194.71 L619.96,194.32 L620.64,193.93 L621.33,193.55 L622.01,193.16 L622.69,192.78 L623.37,192.39 L624.05,192.00 L624.73,191.62 L625.42,191.23 L626.10,190.85 L626.78,190.46 L627.46,190.08 L628.14,189.69 L628.82,189.30 L629.50,188.92 L630.19,188.53 L630.87,188.15 L631.55,187.76 L632.23,187.38 L632.91,186.99 L633.59,186.60 L634.27,186.22 L634.96,185.83 L635.64,185.45 L636.32,185.06 L637.00,184.68 L637.68,184.29 L638.36,183.91 L639.04,183.52 L639.73,183.14 L640.41,182.75 L641.09,182.37 L641.77,181.98 L642.45,181.60 L643.13,181.21 L643.81,180.83 L644.50,180.44 L645.18,180.06 L645.86,179.67 L646.54,179.29 L647.22,178.91 L647.90,178.52 L648.58,178.14 L649.27,177.75 L649.95,177.37 L650.63,176.98 L651.31,176.60 L651.99,176.22 L652.67,175.83 L653.35,175.45 L654.04,175.07 L654.72,174.68 L655.40,174.30 L656.08,173.92 L656.76,173.53 L657.44,173.15 L658.12,172.77 L658.81,172.39 L659.49,172.00 L660.17,171.62 L660.85,171.24 L661.53,170.86 L662.21,170.48 L662.89,170.09 L663.58,169.71 L664.26,169.33 L664.94,168.95 L665.62,168.57 L666.30,168.19 L666.98,167.81 L667.67,167.43 L668.35,167.05 L669.03,166.67 L669.71,166.29 L670.39,165.91 L671.07,165.53 L671.75,165.15 L672.44,164.77 L673.12,164.39 L673.80,164.02 L674.48,163.64 L675.16,163.26 L675.84,162.88 L676.52,162.51 L677.21,162.13 L677.89,161.75 L678.57,161.38 L679.25,161.00 L679.93,160.63 L680.61,160.25 L681.29,159.88 L681.98,159.50 L682.66,159.13 L683.34,158.76 L684.02,158.39 L684.70,158.01 L685.38,157.64 L686.06,157.27 L686.75,156.90 L687.43,156.53 L688.11,156.16 L688.79,155.79 L689.47,155.42 L690.15,155.06 L690.83,154.69 L691.52,154.32 L692.20,153.96 L692.88,153.59 L693.56,153.23 L694.24,152.87 L694.92,152.50 L695.60,152.14 L696.29,151.78 L696.97,151.42 L697.65,151.06 L698.33,150.70 L699.01,150.35 L699.69,149.99 L700.37,149.63 L701.06,149.28 L701.74,148.93 L702.42,148.57 L703.10,148.22 L703.78,147.87 L704.46,147.52 L705.15,147.17 L705.83,146.83 L706.51,146.48 L707.19,146.14 L707.87,145.80 L708.55,145.45 L709.23,145.11 L709.92,144.78 L710.60,144.44 L711.28,144.10 L711.96,143.77 L712.64,143.44 L713.32,143.11 L714.00,142.78 L714.69,142.45 L715.37,142.12 L716.05,141.80 L716.73,141.48 L717.41,141.16 L718.09,140.84 L718.77,140.52 L719.46,140.21 L720.14,139.90 L720.82,139.59 L721.50,139.28" stroke="#000" stroke-width="1.8"/>
<path d="M449.60,291.29 L450.28,290.90 L450.96,290.51 L451.64,290.12 L452.33,289.73 L453.01,289.33 L453.69,288.94 L454.37,288.55 L455.05,288.16 L455.73,287.77 L456.41,287.38 L457.10,286.99 L457.78,286.59 L458.46,286.20 L459.14,285.81 L459.82,285.41 L460.50,285.02 L461.18,284.63 L461.87,284.23 L462.55,283.84 L463.23,283.45 L463.91,283.05 L464.59,282.66 L465.27,282.26 L465.95,281.87 L466.64,281.47 L467.32,281.08 L468.00,280.68 L468.68,280.28 L469.36,279.89 L470.04,279.49 L470.73,279.09 L471.41,278.70 L472.09,278.30 L472.77,277.90 L473.45,277.50 L474.13,277.10 L474.81,276.70 L475.50,276.30 L476.18,275.90 L476.86,275.50 L477.54,275.10 L478.22,274.69 L478.90,274.29 L479.58,273.89 L480.27,273.48 L480.95,273.08 L481.63,272.68 L482.31,272.27 L482.99,271.86 L483.67,271.46 L484.35,271.05 L485.04,270.64 L485.72,270.23 L486.40,269.82 L487.08,269.41 L487.76,269.00 L488.44,268.59 L489.12,268.17 L489.81,267.76 L490.49,267.35 L491.17,266.93 L491.85,266.51 L492.53,266.10 L493.21,265.68 L493.89,265.26 L494.58,264.84 L495.26,264.42 L495.94,263.99 L496.62,263.57 L497.30,263.14 L497.98,262.72 L498.66,262.29 L499.35,261.86 L500.03,261.43 L500.71,261.00 L501.39,260.57 L502.07,260.13 L502.75,259.70 L503.43,259.26 L504.12,258.82 L504.80,258.38 L505.48,257.94 L506.16,257.49 L506.84,257.05 L507.52,256.60 L508.21,256.15 L508.89,255.70 L509.57,255.25 L510.25,254.79 L510.93,254.34 L511.61,253.88 L512.29,253.42 L512.98,252.95 L513.66,252.49 L514.34,252.02 L515.02,251.55 L515.70,251.08 L516.38,250.61 L517.06,250.13 L517.75,249.65 L518.43,249.17 L519.11,248.69 L519.79,248.20 L520.47,247.71 L521.15,247.22 L521.83,246.73 L522.52,246.23 L523.20,245.73 L523.88,245.23 L524.56,244.73 L525.24,244.22 L525.92,243.71 L526.60,243.19 L527.29,242.68 L527.97,242.16 L528.65,241.63 L529.33,241.11 L530.01,240.58 L530.69,240.05 L531.37,239.51 L532.06,238.97 L532.74,238.43 L533.42,237.89 L534.10,237.34 L534.78,236.79 L535.46,236.24 L536.14,235.68 L536.83,235.12 L537.51,234.55 L538.19,233.99 L538.87,233.41 L539.55,232.84 L540.23,232.26 L540.91,231.68 L541.60,231.10 L542.28,230.51 L542.96,229.92 L543.64,229.33 L544.32,228.73 L545.00,228.13 L545.68,227.52 L546.37,226.92 L547.05,226.31 L547.73,225.69 L548.41,225.08 L549.09,224.46 L549.77,223.83 L550.46,223.21 L551.14,222.58 L551.82,221.94 L552.50,221.31 L553.18,220.67 L553.86,220.03 L554.54,219.38 L555.23,218.74 L555.91,218.09 L556.59,217.43 L557.27,216.78 L557.95,216.12 L558.63,215.46 L559.31,214.79 L560.00,214.12 L560.68,213.46 L561.36,212.78 L562.04,212.11 L562.72,211.43 L563.40,210.75 L564.08,210.07 L564.77,209.39 L565.45,208.70 L566.13,208.01 L566.81,207.32 L567.49,206.63 L568.17,205.93 L568.85,205.24 L569.54,204.54 L570.22,203.84 L570.90,203.13 L571.58,202.43 L572.26,201.72 L572.94,201.01 L573.62,200.30 L574.31,199.59 L574.99,198.87 L575.67,198.16 L576.35,197.44 L577.03,196.72 L577.71,196.00 L578.39,195.28 L579.08,194.56 L579.76,193.83 L580.44,193.11 L581.12,192.38 L581.80,191.65 L582.48,190.92 L583.16,190.19 L583.85,189.46 L584.53,188.73 L585.21,187.99 L585.89,187.26 L586.57,186.52 L587.25,185.78 L587.94,185.04 L588.62,184.31 L589.30,183.56 L589.98,182.82 L590.66,182.08 L591.34,181.34 L592.02,180.59 L592.71,179.85 L593.39,179.10 L594.07,178.36 L594.75,177.61 L595.43,176.86 L596.11,176.12 L596.79,175.37 L597.48,174.62 L598.16,173.87 L598.84,173.12 L599.52,172.37 L600.20,171.61 L600.88,170.86 L601.56,170.11 L602.25,169.36 L602.93,168.60 L603.61,167.85 L604.29,167.09 L604.97,166.34 L605.65,165.58 L606.33,164.83 L607.02,164.07 L607.70,163.32 L608.38,162.56 L609.06,161.80 L609.74,161.04 L610.42,160.29 L611.10,159.53 L611.79,158.77 L612.47,158.01 L613.15,157.25 L613.83,156.49 L614.51,155.73 L615.19,154.98 L615.87,154.22 L616.56,153.46 L617.24,152.70 L617.92,151.94 L618.60,151.18 L619.28,150.42 L619.96,149.65 L620.64,148.89 L621.33,148.13 L622.01,147.37 L622.69,146.61 L623.37,145.85 L624.05,145.09 L624.73,144.33 L625.42,143.57 L626.10,142.81 L626.78,142.04 L627.46,141.28 L628.14,140.52 L628.82,139.76 L629.50,139.00 L630.19,138.24 L630.87,137.48 L631.55,136.71 L632.23,135.95 L632.91,135.19 L633.59,134.43 L634.27,133.67 L634.96,132.91 L635.64,132.15 L636.32,131.38 L637.00,130.62 L637.68,129.86 L638.36,129.10 L639.04,128.34 L639.73,127.58 L640.41,126.82 L641.09,126.06 L641.77,125.30 L642.45,124.53 L643.13,123.77 L643.81,123.01 L644.50,122.25 L645.18,121.49 L645.86,120.73 L646.54,119.97 L647.22,119.21 L647.90,118.45 L648.58,117.69 L649.27,116.93 L649.95,116.17 L650.63,115.41 L651.31,114.66 L651.99,113.90 L652.67,113.14 L653.35,112.38 L654.04,111.62 L654.72,110.86 L655.40,110.10 L656.08,109.35 L656.76,108.59 L657.44,107.83 L658.12,107.07 L658.81,106.31 L659.49,105.56 L660.17,104.80 L660.85,104.04 L661.53,103.29 L662.21,102.53 L662.89,101.77 L663.58,101.02 L664.26,100.26 L664.94,99.51 L665.62,98.75 L666.30,97.99 L666.98,97.24 L667.67,96.48 L668.35,95.73 L669.03,94.97 L669.71,94.22 L670.39,93.47 L671.07,92.71 L671.75,91.96 L672.44,91.20 L673.12,90.45 L673.80,89.69 L674.48,88.94 L675.16,88.19 L675.84,87.43 L676.52,86.68 L677.21,85.93 L677.89,85.17 L678.57,84.42 L679.25,83.67 L679.93,82.91 L680.61,82.16 L681.29,81.41 L681.98,80.65 L682.66,79.90 L683.34,79.15 L684.02,78.39 L684.70,77.64 L685.38,76.88 L686.06,76.13 L686.75,75.37 L687.43,74.62 L688.11,73.86 L688.79,73.11 L689.47,72.35 L690.15,71.59 L690.83,70.84 L691.52,70.08 L692.20,69.32 L692.88,68.56 L693.56,67.80 L694.24,67.04 L694.92,66.28 L695.60,65.51 L696.29,64.75 L696.97,63.98 L697.65,63.22 L698.33,62.45 L699.01,61.68 L699.69,60.91 L700.37,60.13 L701.06,59.36 L701.74,58.58 L702.42,57.80 L703.10,57.02 L703.78,56.23 L704.46,55.45 L705.15,54.66 L705.83,53.86 L706.51,53.07 L707.19,52.27 L707.87,51.46 L708.55,50.66 L709.23,49.85 L709.92,49.03 L710.60,48.21 L711.28,47.39 L711.96,46.56 L712.64,45.72 L713.32,44.88 L714.00,44.04 L714.69,43.19 L715.37,42.33 L716.05,41.47 L716.73,40.60 L717.41,39.72 L718.09,38.84 L718.77,37.94 L719.46,37.04 L720.14,36.14 L720.82,35.22 L721.50,34.30" stroke="#ff0000" stroke-width="1.8" stroke-dasharray="1.7 2.18"/>
<path d="M449.60,204.04 L450.28,203.65 L450.96,203.27 L451.64,202.88 L452.33,202.49 L453.01,202.11 L453.69,201.72 L454.37,201.33 L455.05,200.95 L455.73,200.56 L456.41,200.17 L457.10,199.79 L457.78,199.40 L458.46,199.01 L459.14,198.63 L459.82,198.24 L460.50,197.85 L461.18,197.47 L461.87,197.08 L462.55,196.69 L463.23,196.31 L463.91,195.92 L464.59,195.53 L465.27,195.15 L465.95,194.76 L466.64,194.37 L467.32,193.99 L468.00,193.60 L468.68,193.21 L469.36,192.83 L470.04,192.44 L470.73,192.05 L471.41,191.67 L472.09,191.28 L472.77,190.89 L473.45,190.51 L474.13,190.12 L474.81,189.73 L475.50,189.35 L476.18,188.96 L476.86,188.57 L477.54,188.19 L478.22,187.80 L478.90,187.41 L479.58,187.03 L480.27,186.64 L480.95,186.25 L481.63,185.87 L482.31,185.48 L482.99,185.09 L483.67,184.71 L484.35,184.32 L485.04,183.93 L485.72,183.55 L486.40,183.16 L487.08,182.77 L487.76,182.39 L488.44,182.00 L489.12,181.62 L489.81,181.23 L490.49,180.84 L491.17,180.46 L491.85,180.07 L492.53,179.68 L493.21,179.30 L493.89,178.91 L494.58,178.52 L495.26,178.14 L495.94,177.75 L496.62,177.36 L497.30,176.98 L497.98,176.59 L498.66,176.20 L499.35,175.82 L500.03,175.43 L500.71,175.04 L501.39,174.66 L502.07,174.27 L502.75,173.88 L503.43,173.50 L504.12,173.11 L504.80,172.72 L505.48,172.34 L506.16,171.95 L506.84,171.56 L507.52,171.18 L508.21,170.79 L508.89,170.40 L509.57,170.02 L510.25,169.63 L510.93,169.24 L511.61,168.86 L512.29,168.47 L512.98,168.08 L513.66,167.70 L514.34,167.31 L515.02,166.92 L515.70,166.54 L516.38,166.15 L517.06,165.76 L517.75,165.38 L518.43,164.99 L519.11,164.60 L519.79,164.22 L520.47,163.83 L521.15,163.44 L521.83,163.06 L522.52,162.67 L523.20,162.28 L523.88,161.90 L524.56,161.51 L525.24,161.12 L525.92,160.74 L526.60,160.35 L527.29,159.96 L527.97,159.58 L528.65,159.19 L529.33,158.80 L530.01,158.42 L530.69,158.03 L531.37,157.64 L532.06,157.26 L532.74,156.87 L533.42,156.48 L534.10,156.10 L534.78,155.71 L535.46,155.32 L536.14,154.94 L536.83,154.55 L537.51,154.16 L538.19,153.78 L538.87,153.39 L539.55,153.00 L540.23,152.62 L540.91,152.23 L541.60,151.84 L542.28,151.46 L542.96,151.07 L543.64,150.68 L544.32,150.30 L545.00,149.91 L545.68,149.52 L546.37,149.14 L547.05,148.75 L547.73,148.36 L548.41,147.98 L549.09,147.59 L549.77,147.20 L550.46,146.82 L551.14,146.43 L551.82,146.04 L552.50,145.65 L553.18,145.27 L553.86,144.88 L554.54,144.49 L555.23,144.11 L555.91,143.72 L556.59,143.33 L557.27,142.95 L557.95,142.56 L558.63,142.17 L559.31,141.79 L560.00,141.40 L560.68,141.01 L561.36,140.63 L562.04,140.24 L562.72,139.85 L563.40,139.47 L564.08,139.08 L564.77,138.69 L565.45,138.30 L566.13,137.92 L566.81,137.53 L567.49,137.14 L568.17,136.76 L568.85,136.37 L569.54,135.98 L570.22,135.60 L570.90,135.21 L571.58,134.82 L572.26,134.43 L572.94,134.05 L573.62,133.66 L574.31,133.27 L574.99,132.89 L575.67,132.50 L576.35,132.11 L577.03,131.72 L577.71,131.34 L578.39,130.95 L579.08,130.56 L579.76,130.18 L580.44,129.79 L581.12,129.40 L581.80,129.01 L582.48,128.63 L583.16,128.24 L583.85,127.85 L584.53,127.46 L585.21,127.08 L585.89,126.69 L586.57,126.30 L587.25,125.91 L587.94,125.53 L588.62,125.14 L589.30,124.75 L589.98,124.36 L590.66,123.97 L591.34,123.59 L592.02,123.20 L592.71,122.81 L593.39,122.42 L594.07,122.03 L594.75,121.65 L595.43,121.26 L596.11,120.87 L596.79,120.48 L597.48,120.09 L598.16,119.71 L598.84,119.32 L599.52,118.93 L600.20,118.54 L600.88,118.15 L601.56,117.76 L602.25,117.37 L602.93,116.99 L603.61,116.60 L604.29,116.21 L604.97,115.82 L605.65,115.43 L606.33,115.04 L607.02,114.65 L607.70,114.26 L608.38,113.87 L609.06,113.48 L609.74,113.09 L610.42,112.70 L611.10,112.31 L611.79,111.92 L612.47,111.53 L613.15,111.14 L613.83,110.75 L614.51,110.36 L615.19,109.97 L615.87,109.58 L616.56,109.19 L617.24,108.80 L617.92,108.41 L618.60,108.01 L619.28,107.62 L619.96,107.23 L620.64,106.84 L621.33,106.45 L622.01,106.05 L622.69,105.66 L623.37,105.27 L624.05,104.88 L624.73,104.48 L625.42,104.09 L626.10,103.70 L626.78,103.30 L627.46,102.91 L628.14,102.51 L628.82,102.12 L629.50,101.72 L630.19,101.33 L630.87,100.93 L631.55,100.54 L632.23,100.14 L632.91,99.74 L633.59,99.35 L634.27,98.95 L634.96,98.55 L635.64,98.15 L636.32,97.76 L637.00,97.36 L637.68,96.96 L638.36,96.56 L639.04,96.16 L639.73,95.76 L640.41,95.36 L641.09,94.95 L641.77,94.55 L642.45,94.15 L643.13,93.75 L643.81,93.34 L644.50,92.94 L645.18,92.53 L645.86,92.13 L646.54,91.72 L647.22,91.32 L647.90,90.91 L648.58,90.50 L649.27,90.09 L649.95,89.68 L650.63,89.27 L651.31,88.86 L651.99,88.45 L652.67,88.03 L653.35,87.62 L654.04,87.20 L654.72,86.79 L655.40,86.37 L656.08,85.95 L656.76,85.54 L657.44,85.12 L658.12,84.69 L658.81,84.27 L659.49,83.85 L660.17,83.42 L660.85,83.00 L661.53,82.57 L662.21,82.14 L662.89,81.71 L663.58,81.28 L664.26,80.85 L664.94,80.41 L665.62,79.98 L666.30,79.54 L666.98,79.10 L667.67,78.66 L668.35,78.22 L669.03,77.78 L669.71,77.33 L670.39,76.88 L671.07,76.43 L671.75,75.98 L672.44,75.53 L673.12,75.07 L673.80,74.61 L674.48,74.15 L675.16,73.69 L675.84,73.22 L676.52,72.76 L677.21,72.29 L677.89,71.81 L678.57,71.34 L679.25,70.86 L679.93,70.38 L680.61,69.90 L681.29,69.41 L681.98,68.92 L682.66,68.43 L683.34,67.93 L684.02,67.44 L684.70,66.93 L685.38,66.43 L686.06,65.92 L686.75,65.41 L687.43,64.89 L688.11,64.37 L688.79,63.85 L689.47,63.33 L690.15,62.79 L690.83,62.26 L691.52,61.72 L692.20,61.18 L692.88,60.63 L693.56,60.08 L694.24,59.53 L694.92,58.97 L695.60,58.40 L696.29,57.84 L696.97,57.26 L697.65,56.69 L698.33,56.10 L699.01,55.52 L699.69,54.92 L700.37,54.33 L701.06,53.72 L701.74,53.12 L702.42,52.50 L703.10,51.89 L703.78,51.26 L704.46,50.64 L705.15,50.00 L705.83,49.36 L706.51,48.72 L707.19,48.07 L707.87,47.41 L708.55,46.75 L709.23,46.08 L709.92,45.41 L710.60,44.73 L711.28,44.04 L711.96,43.35 L712.64,42.65 L713.32,41.95 L714.00,41.24 L714.69,40.53 L715.37,39.80 L716.05,39.08 L716.73,38.34 L717.41,37.60 L718.09,36.86 L718.77,36.11 L719.46,35.35 L720.14,34.58 L720.82,33.81 L721.50,33.03" stroke="#0000ff" stroke-width="1.8" stroke-dasharray="5 1.47" stroke-dashoffset="2.5"/>
</g>
<path d="M494.92,291.4v-4.1 M494.92,19.0v4.1 M540.23,291.4v-7.9 M540.23,19.0v7.9 M585.55,291.4v-4.1 M585.55,19.0v4.1 M630.87,291.4v-7.9 M630.87,19.0v7.9 M676.18,291.4v-4.1 M676.18,19.0v4.1 M449.6,239.98h7.9 M721.5,239.98h-7.9 M449.6,188.56h7.9 M721.5,188.56h-7.9 M449.6,137.14h7.9 M721.5,137.14h-7.9 M449.6,85.72h7.9 M721.5,85.72h-7.9 M449.6,34.30h7.9 M721.5,34.30h-7.9" stroke="#000" stroke-width="0.85" fill="none"/>
<rect x="449.6" y="19.0" width="271.90" height="272.40" fill="none" stroke="#000" stroke-width="0.85"/>
<text class="t" x="403.05" y="302.40">10</text><text class="s" x="423.80" y="290.30">-5</text>
<text class="t" x="403.05" y="250.98">10</text><text class="s" x="423.80" y="238.88">-4</text>
<text class="t" x="403.05" y="199.56">10</text><text class="s" x="423.80" y="187.46">-3</text>
<text class="t" x="403.05" y="148.14">10</text><text class="s" x="423.80" y="136.04">-2</text>
<text class="t" x="403.05" y="96.72">10</text><text class="s" x="423.80" y="84.62">-1</text>
<text class="t" x="436.5" y="41.5" text-anchor="end">1</text>
<text class="t" x="432.45" y="326.00">10</text><text class="s" x="453.20" y="313.90">-6</text>
<text class="t" x="523.08" y="326.00">10</text><text class="s" x="543.83" y="313.90">-4</text>
<text class="t" x="613.72" y="326.00">10</text><text class="s" x="634.47" y="313.90">-2</text>
<text class="t" x="721.50" y="326" text-anchor="middle">1</text>
<g transform="translate(390.7,163.55) rotate(-90) scale(1.18)" fill="#000"><title>ω</title><path d="M2.37,-10.48 L1.95,-9.98 L1.56,-9.45 L1.19,-8.88 L0.86,-8.30 L0.56,-7.69 L0.29,-7.06 L0.07,-6.41 L-0.12,-5.75 L-0.25,-5.07 L-0.34,-4.37 L-0.37,-3.68 L-0.31,-3.03 L-0.20,-2.42 L-0.05,-1.87 L0.15,-1.37 L0.40,-0.92 L0.70,-0.52 L1.04,-0.19 L1.43,0.08 L1.86,0.26 L2.32,0.37 L2.81,0.40 L3.40,0.33 L3.98,0.16 L4.52,-0.10 L5.03,-0.44 L5.50,-0.87 L5.92,-1.36 L6.29,-1.91 L6.60,-2.53 L6.85,-3.19 L7.04,-3.91 L7.15,-4.65 L7.17,-4.88 L7.19,-5.10 L7.21,-5.32 L7.23,-5.54 L7.24,-5.76 L7.25,-5.97 L7.26,-6.19 L7.27,-6.39 L7.27,-6.60 L7.28,-6.80 L7.27,-7.00 L6.63,-7.00 L6.62,-6.81 L6.62,-6.62 L6.61,-6.42 L6.60,-6.22 L6.58,-6.01 L6.57,-5.81 L6.55,-5.60 L6.53,-5.38 L6.51,-5.17 L6.48,-4.96 L6.45,-4.75 L6.33,-4.06 L6.14,-3.43 L5.89,-2.86 L5.60,-2.34 L5.26,-1.88 L4.89,-1.48 L4.50,-1.16 L4.08,-0.90 L3.66,-0.73 L3.23,-0.63 L2.79,-0.60 L2.49,-0.64 L2.21,-0.72 L1.97,-0.85 L1.75,-1.02 L1.55,-1.24 L1.37,-1.51 L1.21,-1.84 L1.08,-2.22 L0.98,-2.67 L0.91,-3.17 L0.87,-3.72 L0.84,-4.33 L0.85,-4.95 L0.90,-5.56 L1.00,-6.17 L1.13,-6.78 L1.31,-7.39 L1.53,-7.98 L1.78,-8.57 L2.07,-9.13 L2.38,-9.68 L2.73,-10.22Z M6.63,-7.03 L6.56,-6.45 L6.50,-5.87 L6.46,-5.29 L6.44,-4.71 L6.43,-4.15 L6.44,-3.60 L6.46,-3.07 L6.51,-2.57 L6.57,-2.09 L6.65,-1.63 L6.76,-1.20 L6.91,-0.88 L7.08,-0.61 L7.27,-0.38 L7.48,-0.17 L7.71,-0.00 L7.94,0.14 L8.19,0.24 L8.44,0.31 L8.70,0.35 L8.95,0.37 L9.26,0.37 L9.90,0.26 L10.54,-0.02 L11.13,-0.42 L11.67,-0.94 L12.16,-1.55 L12.59,-2.24 L12.96,-3.00 L13.26,-3.82 L13.49,-4.68 L13.65,-5.57 L13.72,-6.47 L13.74,-6.90 L13.73,-7.30 L13.71,-7.68 L13.68,-8.03 L13.64,-8.37 L13.58,-8.68 L13.51,-8.97 L13.44,-9.23 L13.36,-9.47 L13.27,-9.69 L13.18,-9.86 L12.22,-9.34 L12.29,-9.21 L12.36,-9.07 L12.44,-8.89 L12.51,-8.69 L12.57,-8.45 L12.63,-8.19 L12.68,-7.90 L12.73,-7.59 L12.76,-7.25 L12.77,-6.90 L12.78,-6.53 L12.71,-5.69 L12.57,-4.89 L12.36,-4.11 L12.08,-3.38 L11.75,-2.70 L11.38,-2.10 L10.97,-1.58 L10.53,-1.16 L10.08,-0.85 L9.63,-0.65 L9.14,-0.57 L9.02,-0.59 L8.85,-0.62 L8.70,-0.66 L8.56,-0.71 L8.44,-0.78 L8.32,-0.86 L8.21,-0.96 L8.11,-1.08 L8.01,-1.23 L7.92,-1.40 L7.84,-1.60 L7.72,-1.92 L7.61,-2.30 L7.51,-2.72 L7.43,-3.18 L7.36,-3.67 L7.31,-4.19 L7.27,-4.72 L7.25,-5.27 L7.24,-5.83 L7.25,-6.40 L7.27,-6.97Z"/><ellipse cx="12.42" cy="-9.35" rx="0.85" ry="1.2" transform="rotate(-20 12.42 -9.35)"/></g>
<path fill-rule="evenodd" fill="#000" aria-label="Δ" d="M585.40,337.90 L595.00,357.50 L575.80,357.50 Z M584.62,340.97 L577.26,356.00 L591.98,356.00 Z"/>
<path fill-rule="evenodd" fill="#008000" aria-label="Δ" d="M665.55,121.90 L673.70,138.80 L657.40,138.80 Z M664.80,124.72 L658.64,137.50 L670.96,137.50 Z"/>
<path fill-rule="evenodd" fill="#008000" aria-label="Δ" d="M562.10,252.20 L570.20,268.80 L554.00,268.80 Z M561.35,254.99 L555.25,267.50 L567.45,267.50 Z"/>
<text class="g" font-size="15.8" x="571.18" y="260.7">1</text><text class="g" font-size="24" x="580.10" y="264.2">/</text><text class="g" font-size="15.8" x="587.19" y="260.7">2</text>
<path d="M626,209.90H672.8" stroke="#000" stroke-width="1.8" fill="none"/>
<g transform="translate(685.1,215.2) rotate(0) scale(0.97)" fill="#000"><title>ω</title><path d="M2.37,-10.48 L1.95,-9.98 L1.56,-9.45 L1.19,-8.88 L0.86,-8.30 L0.56,-7.69 L0.29,-7.06 L0.07,-6.41 L-0.12,-5.75 L-0.25,-5.07 L-0.34,-4.37 L-0.37,-3.68 L-0.31,-3.03 L-0.20,-2.42 L-0.05,-1.87 L0.15,-1.37 L0.40,-0.92 L0.70,-0.52 L1.04,-0.19 L1.43,0.08 L1.86,0.26 L2.32,0.37 L2.81,0.40 L3.40,0.33 L3.98,0.16 L4.52,-0.10 L5.03,-0.44 L5.50,-0.87 L5.92,-1.36 L6.29,-1.91 L6.60,-2.53 L6.85,-3.19 L7.04,-3.91 L7.15,-4.65 L7.17,-4.88 L7.19,-5.10 L7.21,-5.32 L7.23,-5.54 L7.24,-5.76 L7.25,-5.97 L7.26,-6.19 L7.27,-6.39 L7.27,-6.60 L7.28,-6.80 L7.27,-7.00 L6.63,-7.00 L6.62,-6.81 L6.62,-6.62 L6.61,-6.42 L6.60,-6.22 L6.58,-6.01 L6.57,-5.81 L6.55,-5.60 L6.53,-5.38 L6.51,-5.17 L6.48,-4.96 L6.45,-4.75 L6.33,-4.06 L6.14,-3.43 L5.89,-2.86 L5.60,-2.34 L5.26,-1.88 L4.89,-1.48 L4.50,-1.16 L4.08,-0.90 L3.66,-0.73 L3.23,-0.63 L2.79,-0.60 L2.49,-0.64 L2.21,-0.72 L1.97,-0.85 L1.75,-1.02 L1.55,-1.24 L1.37,-1.51 L1.21,-1.84 L1.08,-2.22 L0.98,-2.67 L0.91,-3.17 L0.87,-3.72 L0.84,-4.33 L0.85,-4.95 L0.90,-5.56 L1.00,-6.17 L1.13,-6.78 L1.31,-7.39 L1.53,-7.98 L1.78,-8.57 L2.07,-9.13 L2.38,-9.68 L2.73,-10.22Z M6.63,-7.03 L6.56,-6.45 L6.50,-5.87 L6.46,-5.29 L6.44,-4.71 L6.43,-4.15 L6.44,-3.60 L6.46,-3.07 L6.51,-2.57 L6.57,-2.09 L6.65,-1.63 L6.76,-1.20 L6.91,-0.88 L7.08,-0.61 L7.27,-0.38 L7.48,-0.17 L7.71,-0.00 L7.94,0.14 L8.19,0.24 L8.44,0.31 L8.70,0.35 L8.95,0.37 L9.26,0.37 L9.90,0.26 L10.54,-0.02 L11.13,-0.42 L11.67,-0.94 L12.16,-1.55 L12.59,-2.24 L12.96,-3.00 L13.26,-3.82 L13.49,-4.68 L13.65,-5.57 L13.72,-6.47 L13.74,-6.90 L13.73,-7.30 L13.71,-7.68 L13.68,-8.03 L13.64,-8.37 L13.58,-8.68 L13.51,-8.97 L13.44,-9.23 L13.36,-9.47 L13.27,-9.69 L13.18,-9.86 L12.22,-9.34 L12.29,-9.21 L12.36,-9.07 L12.44,-8.89 L12.51,-8.69 L12.57,-8.45 L12.63,-8.19 L12.68,-7.90 L12.73,-7.59 L12.76,-7.25 L12.77,-6.90 L12.78,-6.53 L12.71,-5.69 L12.57,-4.89 L12.36,-4.11 L12.08,-3.38 L11.75,-2.70 L11.38,-2.10 L10.97,-1.58 L10.53,-1.16 L10.08,-0.85 L9.63,-0.65 L9.14,-0.57 L9.02,-0.59 L8.85,-0.62 L8.70,-0.66 L8.56,-0.71 L8.44,-0.78 L8.32,-0.86 L8.21,-0.96 L8.11,-1.08 L8.01,-1.23 L7.92,-1.40 L7.84,-1.60 L7.72,-1.92 L7.61,-2.30 L7.51,-2.72 L7.43,-3.18 L7.36,-3.67 L7.31,-4.19 L7.27,-4.72 L7.25,-5.27 L7.24,-5.83 L7.25,-6.40 L7.27,-6.97Z"/><ellipse cx="12.42" cy="-9.35" rx="0.85" ry="1.2" transform="rotate(-20 12.42 -9.35)"/></g>
<text font-size="17.5" x="698.8" y="219.50">0</text>
<path d="M626,241.20H670.5" stroke="#ff0000" stroke-width="1.8" fill="none" stroke-dasharray="1.7 2.18"/>
<g transform="translate(685.1,246.5) rotate(0) scale(0.97)" fill="#000"><title>ω</title><path d="M2.37,-10.48 L1.95,-9.98 L1.56,-9.45 L1.19,-8.88 L0.86,-8.30 L0.56,-7.69 L0.29,-7.06 L0.07,-6.41 L-0.12,-5.75 L-0.25,-5.07 L-0.34,-4.37 L-0.37,-3.68 L-0.31,-3.03 L-0.20,-2.42 L-0.05,-1.87 L0.15,-1.37 L0.40,-0.92 L0.70,-0.52 L1.04,-0.19 L1.43,0.08 L1.86,0.26 L2.32,0.37 L2.81,0.40 L3.40,0.33 L3.98,0.16 L4.52,-0.10 L5.03,-0.44 L5.50,-0.87 L5.92,-1.36 L6.29,-1.91 L6.60,-2.53 L6.85,-3.19 L7.04,-3.91 L7.15,-4.65 L7.17,-4.88 L7.19,-5.10 L7.21,-5.32 L7.23,-5.54 L7.24,-5.76 L7.25,-5.97 L7.26,-6.19 L7.27,-6.39 L7.27,-6.60 L7.28,-6.80 L7.27,-7.00 L6.63,-7.00 L6.62,-6.81 L6.62,-6.62 L6.61,-6.42 L6.60,-6.22 L6.58,-6.01 L6.57,-5.81 L6.55,-5.60 L6.53,-5.38 L6.51,-5.17 L6.48,-4.96 L6.45,-4.75 L6.33,-4.06 L6.14,-3.43 L5.89,-2.86 L5.60,-2.34 L5.26,-1.88 L4.89,-1.48 L4.50,-1.16 L4.08,-0.90 L3.66,-0.73 L3.23,-0.63 L2.79,-0.60 L2.49,-0.64 L2.21,-0.72 L1.97,-0.85 L1.75,-1.02 L1.55,-1.24 L1.37,-1.51 L1.21,-1.84 L1.08,-2.22 L0.98,-2.67 L0.91,-3.17 L0.87,-3.72 L0.84,-4.33 L0.85,-4.95 L0.90,-5.56 L1.00,-6.17 L1.13,-6.78 L1.31,-7.39 L1.53,-7.98 L1.78,-8.57 L2.07,-9.13 L2.38,-9.68 L2.73,-10.22Z M6.63,-7.03 L6.56,-6.45 L6.50,-5.87 L6.46,-5.29 L6.44,-4.71 L6.43,-4.15 L6.44,-3.60 L6.46,-3.07 L6.51,-2.57 L6.57,-2.09 L6.65,-1.63 L6.76,-1.20 L6.91,-0.88 L7.08,-0.61 L7.27,-0.38 L7.48,-0.17 L7.71,-0.00 L7.94,0.14 L8.19,0.24 L8.44,0.31 L8.70,0.35 L8.95,0.37 L9.26,0.37 L9.90,0.26 L10.54,-0.02 L11.13,-0.42 L11.67,-0.94 L12.16,-1.55 L12.59,-2.24 L12.96,-3.00 L13.26,-3.82 L13.49,-4.68 L13.65,-5.57 L13.72,-6.47 L13.74,-6.90 L13.73,-7.30 L13.71,-7.68 L13.68,-8.03 L13.64,-8.37 L13.58,-8.68 L13.51,-8.97 L13.44,-9.23 L13.36,-9.47 L13.27,-9.69 L13.18,-9.86 L12.22,-9.34 L12.29,-9.21 L12.36,-9.07 L12.44,-8.89 L12.51,-8.69 L12.57,-8.45 L12.63,-8.19 L12.68,-7.90 L12.73,-7.59 L12.76,-7.25 L12.77,-6.90 L12.78,-6.53 L12.71,-5.69 L12.57,-4.89 L12.36,-4.11 L12.08,-3.38 L11.75,-2.70 L11.38,-2.10 L10.97,-1.58 L10.53,-1.16 L10.08,-0.85 L9.63,-0.65 L9.14,-0.57 L9.02,-0.59 L8.85,-0.62 L8.70,-0.66 L8.56,-0.71 L8.44,-0.78 L8.32,-0.86 L8.21,-0.96 L8.11,-1.08 L8.01,-1.23 L7.92,-1.40 L7.84,-1.60 L7.72,-1.92 L7.61,-2.30 L7.51,-2.72 L7.43,-3.18 L7.36,-3.67 L7.31,-4.19 L7.27,-4.72 L7.25,-5.27 L7.24,-5.83 L7.25,-6.40 L7.27,-6.97Z"/><ellipse cx="12.42" cy="-9.35" rx="0.85" ry="1.2" transform="rotate(-20 12.42 -9.35)"/></g>
<text font-size="17.5" x="698.8" y="250.80">1</text>
<path d="M626,272.50H672.8" stroke="#0000ff" stroke-width="1.8" fill="none" stroke-dasharray="5 1.47"/>
<g transform="translate(685.1,277.8) rotate(0) scale(0.97)" fill="#000"><title>ω</title><path d="M2.37,-10.48 L1.95,-9.98 L1.56,-9.45 L1.19,-8.88 L0.86,-8.30 L0.56,-7.69 L0.29,-7.06 L0.07,-6.41 L-0.12,-5.75 L-0.25,-5.07 L-0.34,-4.37 L-0.37,-3.68 L-0.31,-3.03 L-0.20,-2.42 L-0.05,-1.87 L0.15,-1.37 L0.40,-0.92 L0.70,-0.52 L1.04,-0.19 L1.43,0.08 L1.86,0.26 L2.32,0.37 L2.81,0.40 L3.40,0.33 L3.98,0.16 L4.52,-0.10 L5.03,-0.44 L5.50,-0.87 L5.92,-1.36 L6.29,-1.91 L6.60,-2.53 L6.85,-3.19 L7.04,-3.91 L7.15,-4.65 L7.17,-4.88 L7.19,-5.10 L7.21,-5.32 L7.23,-5.54 L7.24,-5.76 L7.25,-5.97 L7.26,-6.19 L7.27,-6.39 L7.27,-6.60 L7.28,-6.80 L7.27,-7.00 L6.63,-7.00 L6.62,-6.81 L6.62,-6.62 L6.61,-6.42 L6.60,-6.22 L6.58,-6.01 L6.57,-5.81 L6.55,-5.60 L6.53,-5.38 L6.51,-5.17 L6.48,-4.96 L6.45,-4.75 L6.33,-4.06 L6.14,-3.43 L5.89,-2.86 L5.60,-2.34 L5.26,-1.88 L4.89,-1.48 L4.50,-1.16 L4.08,-0.90 L3.66,-0.73 L3.23,-0.63 L2.79,-0.60 L2.49,-0.64 L2.21,-0.72 L1.97,-0.85 L1.75,-1.02 L1.55,-1.24 L1.37,-1.51 L1.21,-1.84 L1.08,-2.22 L0.98,-2.67 L0.91,-3.17 L0.87,-3.72 L0.84,-4.33 L0.85,-4.95 L0.90,-5.56 L1.00,-6.17 L1.13,-6.78 L1.31,-7.39 L1.53,-7.98 L1.78,-8.57 L2.07,-9.13 L2.38,-9.68 L2.73,-10.22Z M6.63,-7.03 L6.56,-6.45 L6.50,-5.87 L6.46,-5.29 L6.44,-4.71 L6.43,-4.15 L6.44,-3.60 L6.46,-3.07 L6.51,-2.57 L6.57,-2.09 L6.65,-1.63 L6.76,-1.20 L6.91,-0.88 L7.08,-0.61 L7.27,-0.38 L7.48,-0.17 L7.71,-0.00 L7.94,0.14 L8.19,0.24 L8.44,0.31 L8.70,0.35 L8.95,0.37 L9.26,0.37 L9.90,0.26 L10.54,-0.02 L11.13,-0.42 L11.67,-0.94 L12.16,-1.55 L12.59,-2.24 L12.96,-3.00 L13.26,-3.82 L13.49,-4.68 L13.65,-5.57 L13.72,-6.47 L13.74,-6.90 L13.73,-7.30 L13.71,-7.68 L13.68,-8.03 L13.64,-8.37 L13.58,-8.68 L13.51,-8.97 L13.44,-9.23 L13.36,-9.47 L13.27,-9.69 L13.18,-9.86 L12.22,-9.34 L12.29,-9.21 L12.36,-9.07 L12.44,-8.89 L12.51,-8.69 L12.57,-8.45 L12.63,-8.19 L12.68,-7.90 L12.73,-7.59 L12.76,-7.25 L12.77,-6.90 L12.78,-6.53 L12.71,-5.69 L12.57,-4.89 L12.36,-4.11 L12.08,-3.38 L11.75,-2.70 L11.38,-2.10 L10.97,-1.58 L10.53,-1.16 L10.08,-0.85 L9.63,-0.65 L9.14,-0.57 L9.02,-0.59 L8.85,-0.62 L8.70,-0.66 L8.56,-0.71 L8.44,-0.78 L8.32,-0.86 L8.21,-0.96 L8.11,-1.08 L8.01,-1.23 L7.92,-1.40 L7.84,-1.60 L7.72,-1.92 L7.61,-2.30 L7.51,-2.72 L7.43,-3.18 L7.36,-3.67 L7.31,-4.19 L7.27,-4.72 L7.25,-5.27 L7.24,-5.83 L7.25,-6.40 L7.27,-6.97Z"/><ellipse cx="12.42" cy="-9.35" rx="0.85" ry="1.2" transform="rotate(-20 12.42 -9.35)"/></g>
<text font-size="17.5" x="698.8" y="282.10">2</text>
</g></svg></body></html>
